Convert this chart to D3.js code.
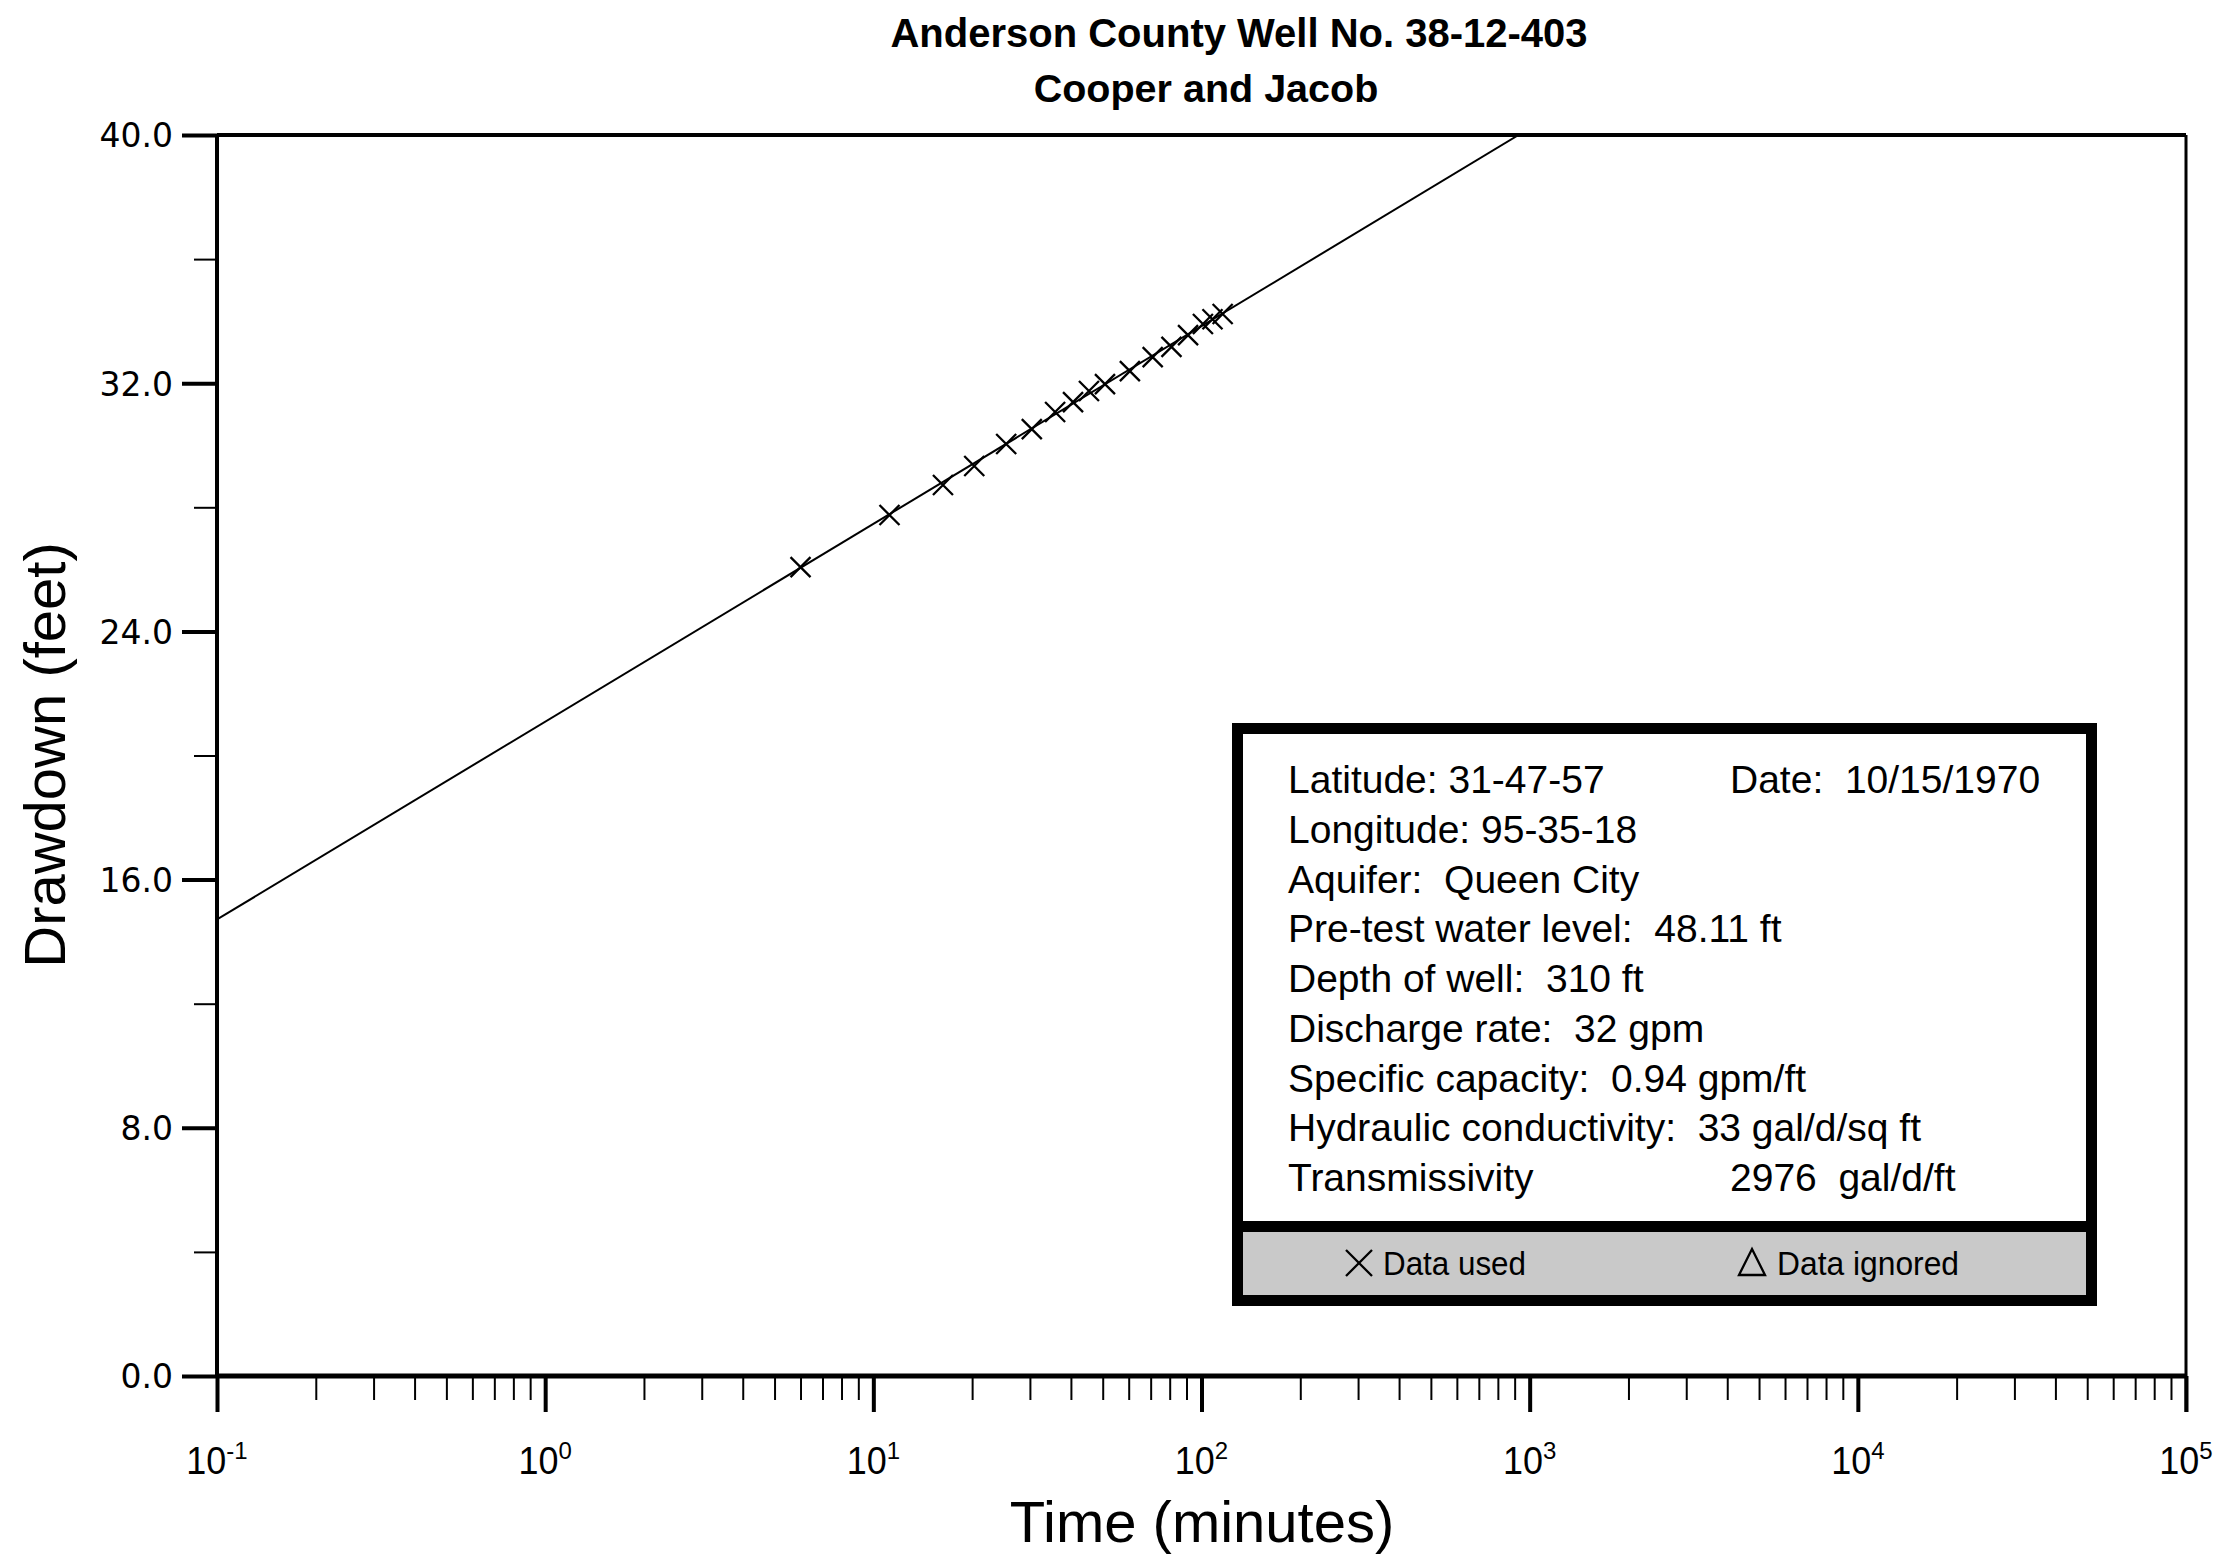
<!DOCTYPE html>
<html>
<head>
<meta charset="utf-8">
<script src="https://cdn.jsdelivr.net/npm/d3@7"></script>
<style>
  body { margin: 0; background: #fff; }
  svg { display: block; }
  text { font-family: "Liberation Sans", Arial, sans-serif; fill: #000; }
  .ytick text { font-family: "DejaVu Sans", Verdana, sans-serif; }
</style>
</head>
<body>
<svg id="chart" width="2229" height="1560"></svg>
<script>
// Data
var titleLines = ["Anderson County Well No. 38-12-403", "Cooper and Jacob"];
var timeMinutes = [6, 11.2, 16.3, 20.3, 25.4, 30.4, 35.8, 40.6, 45.4, 50.8, 60.5, 71, 81, 91, 101, 108, 116];
var drawdownFeet = [26.07, 27.75, 28.72, 29.33, 30.04, 30.52, 31.07, 31.39, 31.75, 31.97, 32.39, 32.84, 33.17, 33.55, 33.91, 34.06, 34.23];
// straight-line fit: drawdown = fitIntercept + fitSlope * log10(t)
var fitIntercept = 21.09;
var fitSlope = 6.375;
var yTicks = [0, 8, 16, 24, 32, 40];
var yMinorTicks = [4, 12, 20, 28, 36];
var decadeExponents = [-1, 0, 1, 2, 3, 4, 5];
var infoLeft = [
  "Latitude: 31-47-57",
  "Longitude: 95-35-18",
  "Aquifer:  Queen City",
  "Pre-test water level:  48.11 ft",
  "Depth of well:  310 ft",
  "Discharge rate:  32 gpm",
  "Specific capacity:  0.94 gpm/ft",
  "Hydraulic conductivity:  33 gal/d/sq ft",
  "Transmissivity"
];
var infoRight = ["Date:  10/15/1970", "", "", "", "", "", "", "", "2976  gal/d/ft"];
var legendLabels = ["Data used", "Data ignored"];

(function() {
  // Dimensions
  var plotLeft = 217, plotRight = 2186, plotTop = 135, plotBottom = 1376;

  var svg = d3.select("#chart");

  var x = d3.scaleLog().domain([0.1, 1e5]).range([plotLeft, plotRight]);
  var y = d3.scaleLinear().domain([0, 40]).range([plotBottom, plotTop]);

  // titles
  svg.append("text")
    .attr("x", 1239).attr("y", 47)
    .attr("text-anchor", "middle")
    .style("font-weight", "bold").style("font-size", "40px")
    .text(titleLines[0]);
  svg.append("text")
    .attr("x", 1206).attr("y", 102)
    .attr("text-anchor", "middle")
    .style("font-weight", "bold").style("font-size", "39.5px")
    .text(titleLines[1]);

  // x ticks
  var minorX = [];
  decadeExponents.slice(0, -1).forEach(function(e) {
    for (var k = 2; k <= 9; k++) minorX.push(k * Math.pow(10, e));
  });

  var xMinorAxis = svg.append("g")
    .attr("transform", "translate(0," + plotBottom + ")")
    .call(d3.axisBottom(x).tickValues(minorX).tickSize(24).tickFormat(""));
  xMinorAxis.selectAll("line").attr("stroke", "#000").attr("stroke-width", 2);

  var xMajorAxis = svg.append("g")
    .attr("transform", "translate(0," + plotBottom + ")")
    .call(d3.axisBottom(x).tickValues(decadeExponents.map(function(e) { return Math.pow(10, e); }))
      .tickSize(36).tickFormat(""));
  xMajorAxis.selectAll("line").attr("stroke", "#000").attr("stroke-width", 4);
  svg.selectAll(".domain").remove();

  var xLabels = svg.append("g").selectAll("text")
    .data(decadeExponents)
    .enter()
    .append("text")
    .attr("x", function(d) { return x(Math.pow(10, d)); })
    .attr("y", 1474)
    .attr("text-anchor", "middle")
    .style("font-size", "39px");
  xLabels.append("tspan").attr("textLength", 40).attr("lengthAdjust", "spacingAndGlyphs").text("10");
  xLabels.append("tspan")
    .attr("dy", -15)
    .style("font-size", "24px")
    .text(function(d) { return d; });

  // y ticks
  var yMinorAxis = svg.append("g")
    .attr("transform", "translate(" + plotLeft + ",0)")
    .call(d3.axisLeft(y).tickValues(yMinorTicks).tickSize(23).tickFormat(""));
  yMinorAxis.selectAll("line").attr("stroke", "#000").attr("stroke-width", 2);
  yMinorAxis.select(".domain").remove();

  var yAxis = svg.append("g")
    .attr("class", "ytick")
    .attr("transform", "translate(" + plotLeft + ",0)")
    .call(d3.axisLeft(y).tickValues(yTicks).tickSize(35).tickPadding(9).tickFormat(d3.format(".1f")));
  yAxis.select(".domain").remove();
  yAxis.selectAll("line").attr("stroke", "#000").attr("stroke-width", 4);
  yAxis.selectAll("text").style("font-size", "33px").attr("dy", "0.36em");

  // frame
  svg.append("line").attr("x1", plotLeft).attr("x2", plotRight).attr("y1", plotBottom).attr("y2", plotBottom)
    .attr("stroke", "#000").attr("stroke-width", 5);
  svg.append("line").attr("x1", plotLeft).attr("x2", plotRight).attr("y1", plotTop).attr("y2", plotTop)
    .attr("stroke", "#000").attr("stroke-width", 4);
  svg.append("line").attr("x1", plotLeft).attr("x2", plotLeft).attr("y1", plotTop).attr("y2", plotBottom)
    .attr("stroke", "#000").attr("stroke-width", 4);
  svg.append("line").attr("x1", plotRight).attr("x2", plotRight).attr("y1", plotTop).attr("y2", plotBottom + 36)
    .attr("stroke", "#000").attr("stroke-width", 3);

  // axis titles
  svg.append("text")
    .attr("x", 1202).attr("y", 1542)
    .attr("text-anchor", "middle")
    .style("font-size", "58px")
    .text("Time (minutes)");
  svg.append("text")
    .attr("transform", "translate(65,755) rotate(-90)")
    .attr("text-anchor", "middle")
    .style("font-size", "58px")
    .text("Drawdown (feet)");

  // fit line, clipped to plot area
  svg.append("clipPath").attr("id", "plotclip")
    .append("rect").attr("x", plotLeft).attr("y", plotTop)
    .attr("width", plotRight - plotLeft).attr("height", plotBottom - plotTop);

  var tEnd = Math.pow(10, (40 - fitIntercept) / fitSlope);
  var fitPts = [0.1, tEnd];
  svg.append("path")
    .datum(fitPts)
    .attr("clip-path", "url(#plotclip)")
    .attr("fill", "none")
    .attr("stroke", "#000")
    .attr("stroke-width", 2)
    .attr("d", d3.line()
      .x(function(d) { return x(d); })
      .y(function(d) { return y(fitIntercept + fitSlope * Math.log10(d)); }));

  // data points (X markers)
  var cross = "M-10,-10L10,10M-10,10L10,-10";
  svg.append("g").selectAll("path")
    .data(timeMinutes)
    .enter()
    .append("path")
    .attr("d", cross)
    .attr("transform", function(d, i) {
      return "translate(" + x(d) + "," + y(drawdownFeet[i]) + ")";
    })
    .attr("fill", "none")
    .attr("stroke", "#000")
    .attr("stroke-width", 2.3);

  // info box
  var box = svg.append("g");
  box.append("rect")
    .attr("x", 1237.5).attr("y", 1226.5).attr("width", 854).attr("height", 74)
    .attr("fill", "#c9c9c9");
  box.append("rect")
    .attr("x", 1237.5).attr("y", 728.5).attr("width", 854).attr("height", 572)
    .attr("fill", "none").attr("stroke", "#000").attr("stroke-width", 11);
  box.append("line")
    .attr("x1", 1232).attr("x2", 2097).attr("y1", 1226.5).attr("y2", 1226.5)
    .attr("stroke", "#000").attr("stroke-width", 11);

  box.selectAll("text.left")
    .data(infoLeft)
    .enter()
    .append("text")
    .attr("class", "left")
    .attr("x", 1288)
    .attr("y", function(d, i) { return 793 + i * 49.75; })
    .style("font-size", "39px")
    .style("white-space", "pre")
    .text(function(d) { return d; });

  box.selectAll("text.right")
    .data(infoRight)
    .enter()
    .append("text")
    .attr("class", "right")
    .attr("x", 1730)
    .attr("y", function(d, i) { return 793 + i * 49.75; })
    .style("font-size", "39px")
    .style("white-space", "pre")
    .text(function(d) { return d; });

  // legend row
  box.append("path")
    .attr("d", "M-13,-13L13,13M-13,13L13,-13")
    .attr("transform", "translate(1359,1263)")
    .attr("fill", "none").attr("stroke", "#000").attr("stroke-width", 2.3);
  box.append("text")
    .attr("x", 1383).attr("y", 1275)
    .attr("textLength", 143).attr("lengthAdjust", "spacingAndGlyphs")
    .style("font-size", "34px")
    .text(legendLabels[0]);
  box.append("path")
    .attr("d", "M0,-13L13,13L-13,13Z")
    .attr("transform", "translate(1752,1262)")
    .attr("fill", "none").attr("stroke", "#000").attr("stroke-width", 2.3);
  box.append("text")
    .attr("x", 1777).attr("y", 1275)
    .attr("textLength", 182).attr("lengthAdjust", "spacingAndGlyphs")
    .style("font-size", "34px")
    .text(legendLabels[1]);
})();
</script>
</body>
</html>
